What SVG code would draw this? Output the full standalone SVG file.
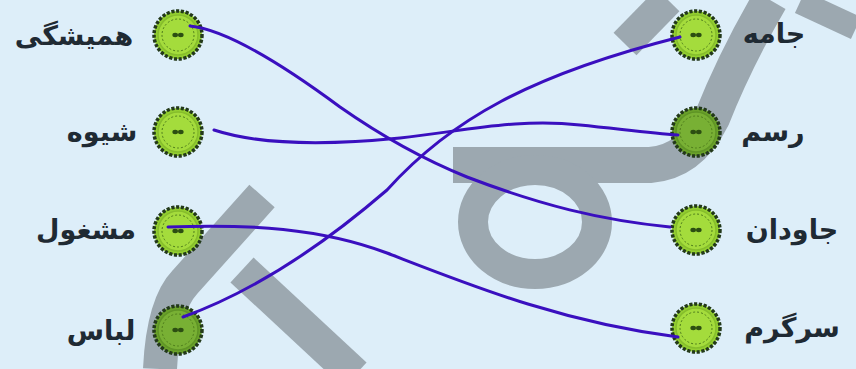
<svg xmlns="http://www.w3.org/2000/svg" width="856" height="369" viewBox="0 0 856 369">
<style>
.lbl{font-family:"DejaVu Sans","Noto Sans",sans-serif;font-weight:bold;font-size:27px;fill:#1f2a33;text-anchor:middle}
.wm{fill:none;stroke:#9ca8b0;stroke-linecap:butt}
.conn{fill:none;stroke:#3a0fbf;stroke-width:3;stroke-linecap:round;stroke-linejoin:round}
.edge{stroke:#23391a;stroke-width:3.5;stroke-dasharray:3.2 1.6}
.stitch{fill:none;stroke:#4f7d1c;stroke-width:1;stroke-dasharray:2 2}
.hole{fill:#2c4e12}
</style>
<defs>
<g id="btn-light">
<circle r="24" fill="#93cf30" class="edge"/>
<circle r="20" fill="#a4dc3c" stroke="#86bd2c" stroke-width="1.5"/>
<circle r="16" class="stitch"/>
<ellipse cx="-2.8" cy="0" rx="2.8" ry="2.2" class="hole"/>
<ellipse cx="2.8" cy="0" rx="2.8" ry="2.2" class="hole"/>
</g>
<g id="btn-dark">
<circle r="24" fill="#6aa22a" class="edge"/>
<circle r="20" fill="#78b034" stroke="#5f9426" stroke-width="1.5"/>
<circle r="16" class="stitch"/>
<ellipse cx="-2.8" cy="0" rx="2.8" ry="2.2" class="hole"/>
<ellipse cx="2.8" cy="0" rx="2.8" ry="2.2" class="hole"/>
</g>
</defs>
<rect width="856" height="369" fill="#ddeef9"/>
<g id="watermark">
<path class="wm" stroke-width="34" d="M262 196 L185 282 Q163 305 160 369"/>
<path class="wm" stroke-width="34" d="M242 270 L355 375"/>
<path class="wm" stroke-width="36" d="M453 165 L650 165 Q690 162 712 118 Q735 60 770 0"/>
<ellipse class="wm" stroke-width="30" cx="535" cy="222" rx="62" ry="52"/>
<path class="wm" stroke-width="32" d="M625 44 L668 0"/>
<path class="wm" stroke-width="24" d="M800 2 L856 28"/>
</g>
<g id="n-hamishegi"><use href="#btn-light" x="178" y="35"/><text class="lbl" x="74" y="45">همیشگی</text></g>
<g id="n-shive"><use href="#btn-light" x="178" y="132"/><text class="lbl" x="102" y="141">شیوه</text></g>
<g id="n-mashghul"><use href="#btn-light" x="178" y="231"/><text class="lbl" x="86" y="239">مشغول</text></g>
<g id="n-lebas"><use href="#btn-dark" x="178" y="330"/><text class="lbl" x="101" y="340">لباس</text></g>
<g id="n-jame"><use href="#btn-light" x="696" y="35"/><text class="lbl" x="774" y="43">جامه</text></g>
<g id="n-rasm"><use href="#btn-dark" x="696" y="132"/><text class="lbl" x="773" y="141">رسم</text></g>
<g id="n-javedan"><use href="#btn-light" x="696" y="230"/><text class="lbl" x="792" y="239">جاودان</text></g>
<g id="n-sargarm"><use href="#btn-light" x="696" y="328"/><text class="lbl" x="792" y="337">سرگرم</text></g>
<g id="connectors">
<path class="conn" d="M190 26 C230 30 290 70 340 107 C380 135 420 158 467 177 C540 205 600 220 670 227"/>
<path class="conn" d="M214 130 C260 145 330 145 400 138 C470 130 520 118 580 125 C620 129 650 133 678 135"/>
<path class="conn" d="M168 227 C250 224 320 228 387 253 C470 285 560 322 678 337"/>
<path class="conn" d="M183 317 C230 300 300 265 387 190 C450 120 530 75 680 37"/>
</g>
</svg>
